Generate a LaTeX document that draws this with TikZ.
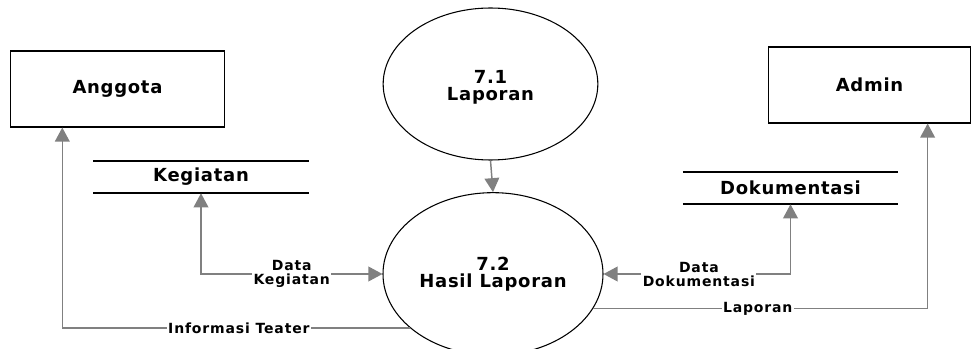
\documentclass[tikz,border=0pt]{standalone}
\usepackage{fontspec}
\usetikzlibrary{arrows.meta,shapes.geometric,calc}
\newfontfamily\dfdfont[LetterSpace=4]{DejaVu Sans}
\newfontfamily\dfdsmall[LetterSpace=6]{DejaVu Sans}
\definecolor{flowgray}{RGB}{128,128,128}
\tikzset{
  bigtext/.style={font=\dfdfont\bfseries\fontsize{13.5}{13}\selectfont},
  entity/.style={draw=black, line width=0.8pt, minimum height=57pt, bigtext},
  process/.style={ellipse, draw=black, line width=0.8pt, inner sep=0pt,
    align=center, bigtext},
  proctext/.style={align=center, inner sep=0pt, bigtext},
  store/.style={minimum width=161pt, minimum height=24pt, inner sep=0pt, bigtext},
  storeline/.style={line width=1.6pt, black},
  flow/.style={draw=flowgray, line width=1.1pt,
    -{Triangle[length=10.5pt, width=11pt, fill=flowgray]}},
  bothflow/.style={flow, {Triangle[length=10.5pt, width=11pt, fill=flowgray]}-{Triangle[length=10.5pt, width=11pt, fill=flowgray]}},
  flowlabel/.style={fill=white, inner sep=1pt, align=center,
    font=\dfdsmall\bfseries\fontsize{10.5}{10.5}\selectfont}
}
\begin{document}
\begin{tikzpicture}[x=0.75pt, y=-0.75pt]
\useasboundingbox (0,0) rectangle (972,349);

% external entities
\node[entity, minimum width=160pt] (anggota) at (117.5,89) {Anggota};
\node[entity, minimum width=152pt] (admin) at (869.5,85) {Admin};

% processes
\node[process, minimum width=161pt, minimum height=114pt] (lap) at (490.5,84) {};
\node[proctext] (laptext) at (490.5,87.5) {7.1\\Laporan};
\node[process, minimum width=165pt, minimum height=122pt] (hasil) at (493,274) {};
\node[proctext] (hasiltext) at (493,274) {7.2\\Hasil Laporan};

% data stores
\node[store] (keg) at (201,177) {Kegiatan};
\draw[storeline] (keg.north west) -- (keg.north east);
\draw[storeline] (keg.south west) -- (keg.south east);
\node[store] (dok) at (790.5,188) {Dokumentasi};
\draw[storeline] (dok.north west) -- (dok.north east);
\draw[storeline] (dok.south west) -- (dok.south east);

% data flows
\draw[flow] (lap.south) -- (hasil.north);
\draw[bothflow] (keg.south) |- (hasil.west)
  node[flowlabel, pos=0.75] {Data\\Kegiatan};
\draw[bothflow] (dok.south) |- (hasil.east)
  node[flowlabel, pos=0.745] {Data\\Dokumentasi};
\draw[flow] (hasil.213.4) -| ($(anggota.south west)+(52,0)$)
  node[flowlabel, pos=0.246] {Informasi Teater};
\draw[flow] (hasil.341.2) -| ($(admin.south west)+(160,0)$)
  node[flowlabel, pos=0.246] {Laporan};
\end{tikzpicture}
\end{document}
